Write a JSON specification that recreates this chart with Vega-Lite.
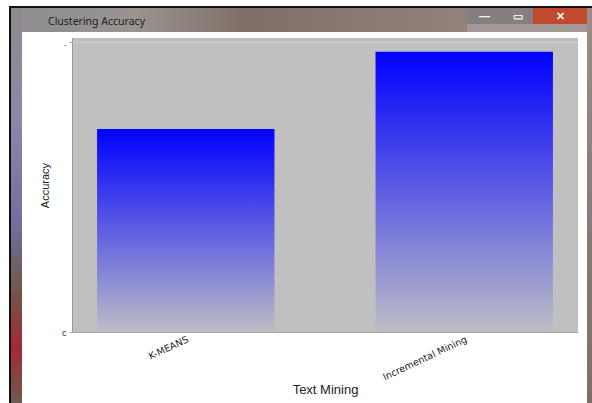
{
  "$schema": "https://vega.github.io/schema/vega-lite/v6.json",
  "padding": {"left": 9, "top": 6, "right": 0, "bottom": 0},
  "background": "white",
  "spacing": 0,
  "config": {"concat": {"spacing": 0}, "view": {"stroke": null}},
  "vconcat": [
    {"width": 583, "height": 2, "data": {"values": []}, "mark": "text", "encoding": {}, "view": {"fill": "#111111", "stroke": null}},
    {
      "spacing": 0,
      "hconcat": [
        {"width": 2, "height": 395, "data": {"values": []}, "mark": "text", "encoding": {}, "view": {"fill": "#111111", "stroke": null}},
        {"width": 11, "height": 395, "data": {"values": []}, "mark": "text", "encoding": {},
          "view": {"stroke": null, "fill": {"gradient": "linear", "x1": 0, "y1": 0, "x2": 0, "y2": 1, "stops": [
            {"offset": 0, "color": "#8f8a8c"},
            {"offset": 0.3, "color": "#8b86a8"},
            {"offset": 0.55, "color": "#6f6fa0"},
            {"offset": 0.7, "color": "#6e5b50"},
            {"offset": 0.86, "color": "#a02a34"},
            {"offset": 1, "color": "#6e5b50"}
          ]}}},
        {
          "spacing": 6,
          "vconcat": [
            {
              "spacing": 0,
              "hconcat": [
                {"width": 445, "height": 24, "data": {"values": []}, "mark": "text", "encoding": {},
                  "title": {"text": "Clustering Accuracy", "anchor": "start", "frame": "group", "offset": -19, "dx": 26, "font": "Noto Sans", "fontSize": 10.5, "fontWeight": "normal", "color": "#202028"},
                  "view": {"stroke": null, "fill": {"gradient": "linear", "x1": 0, "y1": 0, "x2": 1, "y2": 0, "stops": [
                    {"offset": 0, "color": "#8d8d90"},
                    {"offset": 0.25, "color": "#9a9490"},
                    {"offset": 0.5, "color": "#7f6f68"},
                    {"offset": 1, "color": "#94827c"}
                  ]}}},
                {
                  "spacing": 0,
                  "vconcat": [
                    {
                      "spacing": 0,
                      "hconcat": [
                        {"width": 35, "height": 16, "data": {"values": []}, "mark": "text", "encoding": {},
                          "title": {"text": "—", "anchor": "middle", "frame": "group", "offset": -14, "fontSize": 11, "fontWeight": "bold", "color": "#f2f2f2"},
                          "view": {"stroke": null, "fill": "#85807f"}},
                        {"width": 31, "height": 16, "data": {"values": []}, "mark": "text", "encoding": {},
                          "title": {"text": "▭", "anchor": "middle", "frame": "group", "offset": -14, "fontSize": 11, "fontWeight": "bold", "color": "#eeeeee"},
                          "view": {"stroke": null, "fill": "#85807f"}},
                        {"width": 54, "height": 16, "data": {"values": []}, "mark": "text", "encoding": {},
                          "title": {"text": "✕", "anchor": "middle", "frame": "group", "offset": -14, "fontSize": 11, "fontWeight": "bold", "color": "#f4f4f4"},
                          "view": {"stroke": null, "fill": "#c0492f"}}
                      ]
                    },
                    {"width": 120, "height": 8, "data": {"values": []}, "mark": "text", "encoding": {}, "view": {"fill": "#a39895", "stroke": null}}
                  ]
                }
              ]
            },
            {
              "spacing": 0,
              "hconcat": [
                {"width": 17, "height": 10, "data": {"values": []}, "mark": "text", "encoding": {}},
                {
                  "width": 506,
                  "height": 294,
                  "view": {"fill": "#c0c0c0", "stroke": null},
                  "data": {"values": [
                    {"method": "K-MEANS", "accuracy": 0.70},
                    {"method": "Incremental Mining", "accuracy": 0.966}
                  ]},
                  "mark": {
                    "type": "bar",
                    "fill": {"gradient": "linear", "x1": 0, "y1": 0, "x2": 0, "y2": 1, "stops": [
                      {"offset": 0, "color": "#0000ff"},
                      {"offset": 1, "color": "#bdbdc6"}
                    ]}
                  },
                  "encoding": {
                    "x": {
                      "field": "method",
                      "type": "nominal",
                      "sort": null,
                      "scale": {"paddingInner": 0.363, "paddingOuter": 0.09},
                      "axis": {
                        "title": "Text Mining",
                        "titleFont": "Liberation Sans",
                        "titleFontSize": 13,
                        "titleFontWeight": "normal",
                        "titleColor": "#222222",
                        "titlePadding": 6,
                        "labelAngle": -25,
                        "labelAlign": "right",
                        "labelBaseline": "top",
                        "labelFont": "DejaVu Sans",
                        "labelFontSize": 9.5,
                        "labelColor": "#222222",
                        "labelPadding": 2,
                        "labelLimit": 200,
                        "ticks": false,
                        "domainColor": "#a8a8a8",
                        "minExtent": 45,
                        "maxExtent": 45
                      }
                    },
                    "y": {
                      "field": "accuracy",
                      "type": "quantitative",
                      "scale": {"domain": [0, 1.0138], "nice": false},
                      "axis": {
                        "title": "Accuracy",
                        "titleFont": "Liberation Sans",
                        "titleFontSize": 11,
                        "titleFontWeight": "normal",
                        "titleColor": "#222222",
                        "titlePadding": 7,
                        "values": [0, 1],
                        "labelExpr": "datum.value === 0 ? 'c' : '.'",
                        "labelFont": "Liberation Sans",
                        "labelFontSize": 9,
                        "labelColor": "#222222",
                        "labelPadding": 3,
                        "tickColor": "#b0b0b0",
                        "tickSize": 3,
                        "domainColor": "#9a9a9a",
                        "grid": true,
                        "gridColor": "#dcdcdc",
                        "gridDash": [2, 2],
                        "minExtent": 15,
                        "maxExtent": 15
                      }
                    }
                  }
                }
              ]
            }
          ]
        },
        {"width": 5, "height": 395, "data": {"values": []}, "mark": "text", "encoding": {},
          "view": {"stroke": null, "fill": {"gradient": "linear", "x1": 0, "y1": 0, "x2": 0, "y2": 1, "stops": [
            {"offset": 0, "color": "#9a8d88"},
            {"offset": 0.5, "color": "#8a7c78"},
            {"offset": 1, "color": "#7d6e68"}
          ]}}}
      ]
    }
  ]
}
